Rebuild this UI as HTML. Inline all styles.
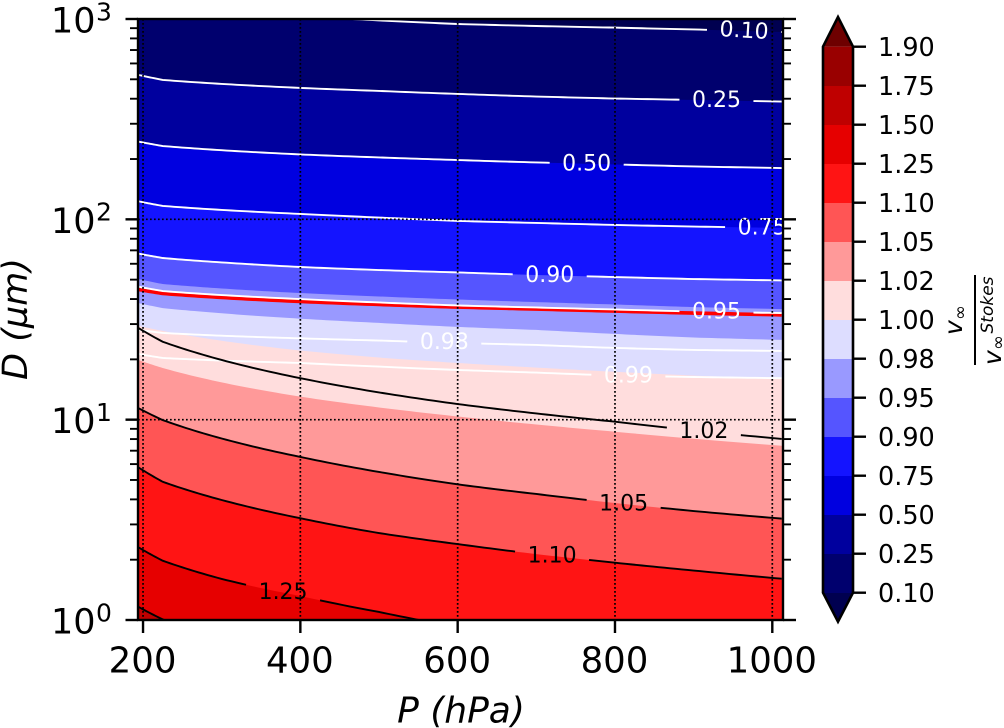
<!DOCTYPE html>
<html lang="en">
<head>
<meta charset="utf-8">
<title>Terminal velocity ratio contour chart</title>
<style>
html,body{margin:0;padding:0;background:#fff;}
svg{display:block;font-family:"DejaVu Sans","Liberation Sans",sans-serif;}
</style>
</head>
<body>
<svg id="chart" xmlns="http://www.w3.org/2000/svg" width="1004" height="728" viewBox="0 0 1004 728">
  <defs>
    <clipPath id="plot-clip"><rect x="138" y="19" width="645" height="601"></rect></clipPath>
  </defs>
  <g id="fills" clip-path="url(#plot-clip)"></g>
  <g id="lines" clip-path="url(#plot-clip)"></g>
  <g id="labels" clip-path="url(#plot-clip)"></g>
  <g id="grid"></g>
  <g id="axes"></g>
  <text x="461" y="722.5" text-anchor="middle" font-size="36" font-style="italic">P (hPa)</text>
  <text transform="translate(27,319) rotate(-90)" text-anchor="middle" font-size="35" font-style="italic">D (µm)</text>
  <g id="colorbar"></g>
  <g font-style="italic" fill="#000">
    <text transform="translate(962,335) rotate(-90)" font-size="25">v</text>
    <text transform="translate(966,320) rotate(-90)" font-size="18">∞</text>
    <rect x="974" y="275" width="2" height="90" fill="#000"></rect>
    <text transform="translate(1001,365) rotate(-90)" font-size="25">v</text>
    <text transform="translate(1004,350) rotate(-90)" font-size="18">∞</text>
    <text transform="translate(993,333.5) rotate(-90)" font-size="17">Stokes</text>
  </g>
</svg>
<script>
// ---- Data: pressure samples (hPa) and log10(D / µm) on each curve ----
const pressures = [194, 225, 300, 400, 500, 600, 700, 800, 900, 1012];

const contour010 = [3.080, 3.065, 3.040, 3.015, 2.993, 2.975, 2.965, 2.957, 2.948, 2.935];
const contour025 = [2.721, 2.696, 2.676, 2.656, 2.641, 2.626, 2.613, 2.603, 2.596, 2.588];
const contour050 = [2.388, 2.366, 2.345, 2.324, 2.309, 2.296, 2.284, 2.274, 2.264, 2.256];
const contour075 = [2.090, 2.067, 2.047, 2.027, 2.009, 1.992, 1.982, 1.972, 1.964, 1.957];
const contour090 = [1.829, 1.807, 1.785, 1.762, 1.747, 1.735, 1.722, 1.712, 1.702, 1.695];
const contour095 = [1.664, 1.642, 1.622, 1.602, 1.585, 1.570, 1.560, 1.550, 1.540, 1.532];
const contour098 = [1.448, 1.433, 1.419, 1.406, 1.395, 1.383, 1.373, 1.358, 1.348, 1.343];
const contour099 = [1.328, 1.308, 1.295, 1.283, 1.265, 1.248, 1.235, 1.220, 1.213, 1.207];
const contour100 = [1.650, 1.630, 1.610, 1.590, 1.575, 1.562, 1.552, 1.542, 1.532, 1.523];
const contour102 = [1.458, 1.389, 1.298, 1.207, 1.136, 1.078, 1.031, 0.990, 0.946, 0.904];
const contour105 = [1.058, 0.998, 0.906, 0.814, 0.739, 0.677, 0.629, 0.584, 0.544, 0.506];
const contour110 = [0.762, 0.690, 0.599, 0.508, 0.434, 0.379, 0.329, 0.286, 0.247, 0.206];
const contour125 = [0.363, 0.296, 0.205, 0.120, 0.040, -0.035, -0.100, -0.160, -0.215, -0.275];
const contour150 = [0.066, 0.003, -0.093, -0.190, -0.275, -0.349, -0.414, -0.474, -0.529, -0.589];

const fillEdge095 = [1.702, 1.677, 1.655, 1.632, 1.615, 1.600, 1.587, 1.575, 1.562, 1.552];
const fillEdge098 = [1.582, 1.557, 1.531, 1.504, 1.483, 1.463, 1.448, 1.428, 1.410, 1.398];
const fillEdge100 = [1.468, 1.443, 1.394, 1.345, 1.310, 1.283, 1.260, 1.239, 1.220, 1.203];
const fillEdge102 = [1.298, 1.258, 1.186, 1.115, 1.061, 1.016, 0.976, 0.940, 0.905, 0.870];

const bandEdges = [contour010, contour025, contour050, contour075, contour090, fillEdge095, fillEdge098, fillEdge100, fillEdge102, contour105, contour110, contour125, contour150];

const labelledLevels = ["0.10", "0.25", "0.50", "0.75", "0.90", "0.95", "0.98", "0.99", "1.02", "1.05", "1.10", "1.25", "1.50"];
const labelledCurves = [contour010, contour025, contour050, contour075, contour090, contour095, contour098, contour099, contour102, contour105, contour110, contour125, contour150];
const labelPressures = [964, 929, 764, 987, 717, 929, 583, 817, 913, 811, 720, 378, null];

const xTicks = [200, 400, 600, 800, 1000];
const yDecades = [0, 1, 2, 3];
const yMinorMultipliers = [2, 3, 4, 5, 6, 7, 8, 9];
const colorbarLevels = ["0.10", "0.25", "0.50", "0.75", "0.90", "0.95", "0.98", "1.00", "1.02", "1.05", "1.10", "1.25", "1.50", "1.75", "1.90"];

// ---- Styles ----
const bandColors = ["#000050", "#00006e", "#00009e", "#0000e0", "#1414ff", "#5555ff", "#9999ff", "#ddddff", "#ffdddd", "#ff9999", "#ff5555", "#ff1414", "#e60000", "#bf0000"];
const colorbarColors = ["#00006e", "#00009e", "#0000e0", "#1414ff", "#5555ff", "#9999ff", "#ddddff", "#ffdddd", "#ff9999", "#ff5555", "#ff1414", "#e60000", "#bf0000", "#990000"];
const underColor = "#000050";
const overColor = "#6e0000";

// ---- Axis functions ----
const plot = { left: 138, right: 783, top: 19, bottom: 620 };
const pMin = 193.6, pMax = 1013.6, logMin = 0, logMax = 3;
function xAxis(p) { return plot.left + (p - pMin) / (pMax - pMin) * (plot.right - plot.left); }
function yAxis(logD) { return plot.bottom - (logD - logMin) / (logMax - logMin) * (plot.bottom - plot.top); }
function cbY(i) { return 592.7 - i * (546 / (colorbarLevels.length - 1)); }

const NS = "http://www.w3.org/2000/svg";
function make(tag, parent, attrs) {
  const el = document.createElementNS(NS, tag);
  for (const k in attrs) el.setAttribute(k, attrs[k]);
  parent.appendChild(el);
  return el;
}
// Curves are straight in log-log space between samples, so subdivide there for a smooth drawing.
function curvePoints(vals) {
  const out = [];
  for (let i = 0; i < vals.length - 1; i++) {
    const steps = 14;
    for (let s = 0; s < steps; s++) {
      const t = s / steps;
      const lp = Math.log(pressures[i]) + t * (Math.log(pressures[i + 1]) - Math.log(pressures[i]));
      out.push([xAxis(Math.exp(lp)), yAxis(vals[i] + t * (vals[i + 1] - vals[i]))]);
    }
  }
  out.push([xAxis(pressures[pressures.length - 1]), yAxis(vals[vals.length - 1])]);
  return out;
}
function yAtX(pts, x) {
  for (let i = 0; i < pts.length - 1; i++) {
    if (x >= pts[i][0] && x <= pts[i + 1][0]) {
      const t = (x - pts[i][0]) / (pts[i + 1][0] - pts[i][0]);
      return pts[i][1] + t * (pts[i + 1][1] - pts[i][1]);
    }
  }
  return pts[pts.length - 1][1];
}
function ptsAttr(pts) { return pts.map(p => p[0].toFixed(2) + "," + p[1].toFixed(2)).join(" "); }

// ---- Filled bands ----
const fills = document.getElementById("fills");
const baseBand = make("rect", fills, { x: plot.left, y: plot.top, width: plot.right - plot.left, height: plot.bottom - plot.top, fill: bandColors[0] });


bandEdges.forEach((edge, i) => {
  const pts = curvePoints(edge);
  const first = pts[0], last = pts[pts.length - 1];
  const all = [[plot.left, first[1]]].concat(pts, [[plot.right, last[1]], [plot.right, 760], [plot.left, 760]]);
  const poly = make("polygon", fills, { points: ptsAttr(all), fill: bandColors[i + 1] });
  
  
});

// ---- Contour lines and inline labels ----
const linesG = document.getElementById("lines");
const labelsG = document.getElementById("labels");
const redPts = curvePoints(contour100);
const redLine = make("polyline", linesG, { points: ptsAttr(redPts), fill: "none", stroke: "#ff0000", "stroke-width": 3.6 });



const gapHalf = 37;
labelledLevels.forEach((level, i) => {
  const pts = curvePoints(labelledCurves[i]);
  const color = parseFloat(level) < 1 ? "#ffffff" : "#000000";
  const labelP = labelPressures[i];
  let pieces = [pts];
  if (labelP !== null) {
    const cx = xAxis(labelP);
    const gl = cx - gapHalf, gr = cx + gapHalf;
    const leftPiece = pts.filter(p => p[0] < gl).concat([[gl, yAtX(pts, gl)]]);
    const rightPiece = gr < pts[pts.length - 1][0] ? [[gr, yAtX(pts, gr)]].concat(pts.filter(p => p[0] > gr)) : [];
    pieces = [leftPiece, rightPiece];
  }
  pieces.forEach(piece => {
    if (piece.length < 2) return;
    const line = make("polyline", linesG, { points: ptsAttr(piece), fill: "none", stroke: color, "stroke-width": 1.9 });
    
    
  });
  if (labelP !== null) {
    const cx = xAxis(labelP), cy = yAtX(pts, cx);
    const rot = level === "0.10" ? 3.5 : 0;
    const t = make("text", labelsG, { transform: "translate(" + cx.toFixed(2) + "," + cy.toFixed(2) + ") rotate(" + rot + ")", "text-anchor": "middle", dy: "0.3em", "font-size": 22, fill: color });
    
    
    t.textContent = level;
  }
});

// ---- Grid ----
const gridG = document.getElementById("grid");
xTicks.forEach(p => {
  const l = make("line", gridG, { x1: xAxis(p), x2: xAxis(p), y1: plot.top, y2: plot.bottom, stroke: "#000", "stroke-width": 1.7, "stroke-dasharray": "1.7 2.3" });
  
  
});
yDecades.slice(1, -1).forEach(d => {
  const l = make("line", gridG, { x1: plot.left, x2: plot.right, y1: yAxis(d), y2: yAxis(d), stroke: "#000", "stroke-width": 1.7, "stroke-dasharray": "1.7 2.3" });
  
  
});

// ---- Axes frame, ticks, tick labels ----
const axesG = document.getElementById("axes");
const frame = make("rect", axesG, { x: plot.left, y: plot.top, width: plot.right - plot.left, height: plot.bottom - plot.top, fill: "none", stroke: "#000", "stroke-width": 2.4 });



xTicks.forEach(p => {
  const x = xAxis(p);
  const tick = make("line", axesG, { x1: x, x2: x, y1: plot.bottom, y2: plot.bottom + 13, stroke: "#000", "stroke-width": 2.4 });
  
  
  const t = make("text", axesG, { x: x - 0.5, y: 672.5, "text-anchor": "middle", "font-size": 35.5 });
  
  
  t.textContent = String(p);
});

yDecades.forEach(d => {
  const y = yAxis(d);
  const tl = make("line", axesG, { x1: plot.left - 12.5, x2: plot.left, y1: y, y2: y, stroke: "#000", "stroke-width": 2.4 });
  
  
  const tr = make("line", axesG, { x1: plot.right, x2: plot.right + 13, y1: y, y2: y, stroke: "#000", "stroke-width": 2.4 });
  
  
  const base = make("text", axesG, { x: 95.5, y: y + 13.5, "text-anchor": "end", "font-size": 35 });
  
  
  base.textContent = "10";
  const exp = make("text", axesG, { x: 96, y: y + 1.3, "font-size": 25 });
  
  
  exp.textContent = String(d);
  if (d < 3) {
    yMinorMultipliers.forEach(m => {
      const ym = yAxis(d + Math.log10(m));
      const a = make("line", axesG, { x1: plot.left - 8, x2: plot.left, y1: ym, y2: ym, stroke: "#000", "stroke-width": 1.9 });
      
      
      const b = make("line", axesG, { x1: plot.right, x2: plot.right + 8, y1: ym, y2: ym, stroke: "#000", "stroke-width": 1.9 });
      
      
    });
  }
});

// ---- Colorbar ----
const cb = document.getElementById("colorbar");
const cbL = 823, cbR = 853, cbC = 838;
const tipTop = 17, tipBottom = 621.7;
const upTip = make("polygon", cb, { points: cbL + "," + cbY(14) + " " + cbC + "," + tipTop + " " + cbR + "," + cbY(14), fill: overColor });


const downTip = make("polygon", cb, { points: cbL + "," + cbY(0) + " " + cbC + "," + tipBottom + " " + cbR + "," + cbY(0), fill: underColor });


colorbarColors.forEach((c, i) => {
  const r = make("rect", cb, { x: cbL, y: cbY(i + 1), width: cbR - cbL, height: cbY(i) - cbY(i + 1) + 0.3, fill: c });
  
  
});
const outline = make("polygon", cb, { points: [[cbL, cbY(0)], [cbL, cbY(14)], [cbC, tipTop], [cbR, cbY(14)], [cbR, cbY(0)], [cbC, tipBottom]].map(p => p.join(",")).join(" "), fill: "none", stroke: "#000", "stroke-width": 2.6 });


colorbarLevels.forEach((lv, i) => {
  const y = cbY(i);
  const tick = make("line", cb, { x1: cbR, x2: 866, y1: y, y2: y, stroke: "#000", "stroke-width": 2.4 });
  
  
  const t = make("text", cb, { x: 878, y: y + 9.3, "font-size": 25.5 });
  
  
  t.textContent = lv;
});
</script>
</body>
</html>
